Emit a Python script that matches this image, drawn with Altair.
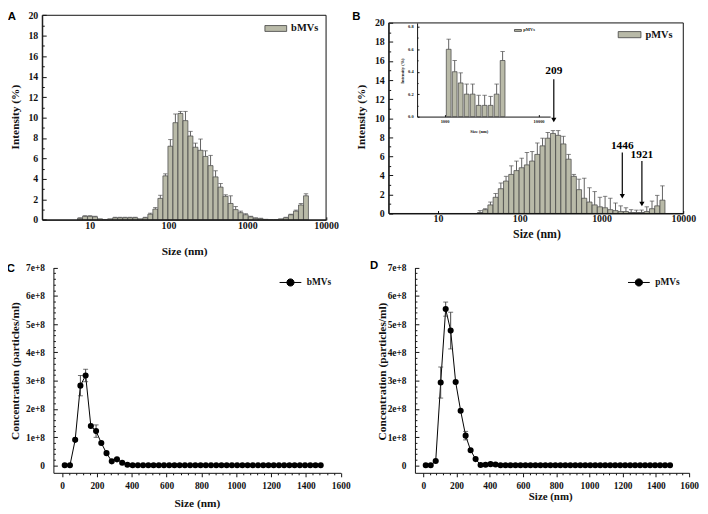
import altair as alt
import pandas as pd

# ------------------------------------------------------------------ data
# DLS size classes (nm) - panels A and B
dls_sizes = [7.531, 8.721, 10.1, 11.7, 13.54, 15.69, 18.17, 21.04, 24.36, 28.21,
             32.67, 37.84, 43.82, 50.75, 58.77, 68.06, 78.82, 91.28, 105.7, 122.4,
             141.8, 164.2, 190.1, 220.2, 255.0, 295.3, 342.0, 396.1, 458.7, 531.2,
             615.1, 712.4, 825.0, 955.4, 1106, 1281, 1484, 1718, 1990, 2305,
             2669, 3091, 3580, 4145, 4801, 5560]
bmv_intensity = [0.15, 0.35, 0.35, 0.3, 0.1, 0.0, 0.1, 0.2, 0.2, 0.2,
                 0.2, 0.2, 0.1, 0.2, 0.55, 1.05, 2.1, 4.3, 7.2, 9.5,
                 10.4, 9.7, 8.2, 7.1, 6.8, 6.2, 5.3, 4.2, 3.2, 2.3,
                 1.6, 1.0, 0.7, 0.5, 0.3, 0.15, 0.1, 0.05, 0.0, 0.0,
                 0.1, 0.2, 0.5, 0.85, 1.45, 2.35]
bmv_sd = [0.05, 0.05, 0.05, 0.05, 0.0, 0.0, 0.0, 0.05, 0.05, 0.05,
          0.05, 0.05, 0.0, 0.05, 0.1, 0.15, 0.3, 0.2, 0.65, 0.85,
          0.2, 0.9, 0.45, 0.4, 1.1, 0.55, 1.0, 0.6, 0.35, 0.15,
          0.75, 0.3, 0.15, 0.1, 0.05, 0.05, 0.05, 0.0, 0.0, 0.0,
          0.0, 0.05, 0.05, 0.1, 0.15, 0.2]

pmv_sizes = [32.67, 37.84, 43.82, 50.75, 58.77, 68.06, 78.82, 91.28, 105.7, 122.4,
             141.8, 164.2, 190.1, 220.2, 255.0, 295.3, 342.0, 396.1, 458.7, 531.2,
             615.1, 712.4, 825.0, 955.4, 1106, 1281, 1484, 1718, 1990, 2305,
             2669, 3091, 3580, 4145, 4801, 5560]
pmv_intensity = [0.1, 0.4, 0.9, 1.7, 2.6, 3.4, 4.1, 4.5, 4.8, 5.1,
                 5.5, 6.2, 7.1, 7.9, 8.4, 8.2, 7.3, 5.7, 3.9, 2.5,
                 1.6, 1.2, 0.9, 0.7, 0.6, 0.4, 0.3, 0.2, 0.2, 0.1,
                 0.1, 0.1, 0.2, 0.5, 0.8, 1.4]
pmv_sd = [0.2, 0.1, 0.3, 0.4, 0.6, 0.5, 0.9, 1.0, 1.0, 1.3,
          1.0, 1.2, 0.8, 0.6, 0.3, 0.5, 0.8, 0.5, 0.2, 1.1,
          2.1, 1.5, 1.4, 1.0, 1.2, 1.2, 0.8, 0.6, 0.4, 0.3,
          0.25, 0.26, 0.5, 0.8, 1.1, 1.5]

inset_sizes = [1106, 1281, 1484, 1718, 1990, 2305, 2669, 3091, 3580, 4145]
inset_intensity = [0.6, 0.4, 0.3, 0.2, 0.2, 0.1, 0.1, 0.1, 0.2, 0.5]
inset_sd = [0.09, 0.1, 0.09, 0.09, 0.09, 0.09, 0.09, 0.08, 0.09, 0.08]

peak_labels = ["209", "1446", "1921"]
peak_x = [261, 1795, 3118]
peak_text_y = [15.0, 7.1, 6.1]
peak_arrow_top = [14.1, 6.4, 5.5]
peak_arrow_tip = [9.8, 1.8, 1.0]

# NTA size bins (nm) - panels C and D
nta_sizes = [15, 45, 75, 105, 135, 165, 195, 225, 255, 285,
             315, 345, 375, 405, 435, 465, 495, 525, 555, 585,
             615, 645, 675, 705, 735, 765, 795, 825, 855, 885,
             915, 945, 975, 1005, 1035, 1065, 1095, 1125, 1155, 1185,
             1215, 1245, 1275, 1305, 1335, 1365, 1395, 1425, 1455, 1485]
# concentrations in units of 1e8 particles/ml
bmv_conc = [0.0, 0.0, 0.9, 2.82, 3.18, 1.39, 1.21, 0.79, 0.43, 0.14,
            0.21, 0.09, 0.02, 0.0, 0.0, 0.0, 0.0, 0.0, 0.0, 0.0,
            0.0, 0.0, 0.0, 0.0, 0.0, 0.0, 0.0, 0.0, 0.0, 0.0,
            0.0, 0.0, 0.0, 0.0, 0.0, 0.0, 0.0, 0.0, 0.0, 0.0,
            0.0, 0.0, 0.0, 0.0, 0.0, 0.0, 0.0, 0.0, 0.0, 0.0]
bmv_conc_sd = [0.0, 0.0, 0.03, 0.36, 0.22, 0.03, 0.22, 0.03, 0.0, 0.0,
               0.0, 0.0, 0.0, 0.0, 0.0, 0.0, 0.0, 0.0, 0.0, 0.0,
               0.0, 0.0, 0.0, 0.0, 0.0, 0.0, 0.0, 0.0, 0.0, 0.0,
               0.0, 0.0, 0.0, 0.0, 0.0, 0.0, 0.0, 0.0, 0.0, 0.0,
               0.0, 0.0, 0.0, 0.0, 0.0, 0.0, 0.0, 0.0, 0.0, 0.0]
pmv_conc = [0.0, 0.0, 0.15, 2.93, 5.53, 4.77, 2.95, 1.93, 1.05, 0.53,
            0.22, 0.01, 0.02, 0.04, 0.03, 0.0, 0.0, 0.0, 0.0, 0.0,
            0.0, 0.0, 0.0, 0.0, 0.0, 0.0, 0.0, 0.0, 0.0, 0.0,
            0.0, 0.0, 0.0, 0.0, 0.0, 0.0, 0.0, 0.0, 0.0, 0.0,
            0.0, 0.0, 0.0, 0.0, 0.0, 0.0, 0.0, 0.0, 0.0, 0.0]
pmv_conc_sd = [0.0, 0.0, 0.02, 0.55, 0.25, 0.65, 0.03, 0.03, 0.15, 0.03,
               0.0, 0.0, 0.0, 0.0, 0.0, 0.0, 0.0, 0.0, 0.0, 0.0,
               0.0, 0.0, 0.0, 0.0, 0.0, 0.0, 0.0, 0.0, 0.0, 0.0,
               0.0, 0.0, 0.0, 0.0, 0.0, 0.0, 0.0, 0.0, 0.0, 0.0,
               0.0, 0.0, 0.0, 0.0, 0.0, 0.0, 0.0, 0.0, 0.0, 0.0]

# axis tick labels
log_ticks = [10, 100, 1000, 10000]
inset_log_ticks = [1000, 10000]
intensity_ticks = [0, 2, 4, 6, 8, 10, 12, 14, 16, 18, 20]
inset_intensity_ticks = [0, 0.2, 0.4, 0.6, 0.8]
conc_ticks = [0, 1e8, 2e8, 3e8, 4e8, 5e8, 6e8, 7e8]
size_ticks = [0, 200, 400, 600, 800, 1000, 1200, 1400, 1600]

# ------------------------------------------------------------------ layout / style
W, H = 700, 506


def PX(v):
    return (v - 3.0) * 0.99


def PY(v):
    return (v - 2.0) * 0.99


SERIF = "Liberation Serif"
SANS = "Liberation Sans"
INK = "#111111"
BAR_FILL = "#b9baa8"
BAR_EDGE = "#404040"
ERR = "#505050"
HALF = 1.074  # half bin width factor (log spacing of size classes)


def minor_values(majors, n_sub):
    step = (majors[1] - majors[0]) / n_sub
    out = []
    for i in range(len(majors) - 1):
        for k in range(n_sub):
            out.append(majors[i] + k * step)
    out.append(majors[-1])
    return out


def ax(orient, offset, title, majors, tick, gap, fmt=None, lexpr=None,
       lsize=10, tsize=11.5, tx=None, ty=None, inward=True, n_sub=None, fancy=True):
    d = dict(orient=orient, offset=offset, title=title, grid=False,
             domainColor=INK, domainWidth=1, tickColor=INK, tickWidth=1,
             labelFont=SERIF, labelFontWeight="bold", labelFontSize=lsize, labelColor=INK,
             titleFont=SERIF, titleFontWeight="bold", titleFontSize=tsize, titleColor=INK,
             titleX=tx, titleY=ty, titleAlign="center", titleBaseline="middle",
             labelFlush=False, labelOverlap=False)
    sign = -1 if inward else 1
    label = lexpr if lexpr else "datum.label"
    if fancy and n_sub:
        step = majors[1] - majors[0]
        test = f"abs(datum.value / {step} - round(datum.value / {step})) < 0.001"
        d["values"] = minor_values(majors, n_sub)
        d["tickSize"] = {"condition": {"test": test, "value": sign * tick},
                         "value": sign * tick * 0.5}
        d["labelExpr"] = f"({test}) ? ({label}) : ''"
    else:
        d["values"] = majors
        d["tickSize"] = {"expr": str(sign * tick)} if inward else tick
        if lexpr:
            d["labelExpr"] = lexpr
    d["labelPadding"] = (tick + gap) if inward else gap
    if fmt:
        d["format"] = fmt
    return alt.Axis(**d)


def bar_legend(lx, ly, width, fsize, loff):
    return alt.Legend(orient="none", legendX=lx, legendY=ly, title=None, padding=0,
                      symbolType="M-1,-0.27H1V0.27H-1Z", symbolSize=width * width,
                      symbolStrokeColor=BAR_EDGE, symbolStrokeWidth=0.8,
                      labelFont=SERIF, labelFontWeight="bold", labelFontSize=fsize,
                      labelColor=INK, labelOffset=loff)


def dot_legend(lx, ly):
    return alt.Legend(orient="none", legendX=lx, legendY=ly, title=None, padding=0,
                      symbolType="M-1,0H1M0.33,0A0.33,0.33,0,1,1,-0.33,0A0.33,0.33,0,1,1,0.33,0Z",
                      symbolSize=484, symbolStrokeColor="black", symbolStrokeWidth=1,
                      labelFont=SERIF, labelFontWeight="bold", labelFontSize=9.5,
                      labelColor=INK, labelOffset=5)


def sx(kind, dom, r0, r1):
    if kind == "log":
        return alt.Scale(type="log", domain=dom, range=[r0, r1], nice=False)
    return alt.Scale(domain=dom, range=[r0, r1], nice=False, zero=False)


def histogram_units(sizes, vals, sds, name, xs, ys, xaxis, yaxis, legend, half, frame):
    df = pd.DataFrame({"size": sizes, "val": vals, "sd": sds})
    df["lo"] = df["size"] / half
    df["hi"] = df["size"] * half
    df["top"] = df["val"] + df["sd"]
    df["series"] = name
    err = df[df["sd"] > 0]
    bars = alt.Chart(df).mark_bar(stroke=BAR_EDGE, strokeWidth=0.7, opacity=1).encode(
        x=alt.X("lo:Q", scale=xs(), axis=xaxis),
        x2="hi:Q",
        y=alt.Y("val:Q", scale=ys(), axis=yaxis),
        y2=alt.datum(0),
        color=alt.Color("series:N", scale=alt.Scale(domain=[name], range=[BAR_FILL]), legend=legend),
    )
    rules = alt.Chart(err).mark_rule(color=ERR, strokeWidth=0.9).encode(
        x=alt.X("size:Q", scale=xs(), axis=None),
        y=alt.Y("val:Q", scale=ys(), axis=None),
        y2="top:Q",
    )
    caps = alt.Chart(err).mark_tick(orient="horizontal", size=4.5, thickness=1, color=ERR).encode(
        x=alt.X("size:Q", scale=xs(), axis=None),
        y=alt.Y("top:Q", scale=ys(), axis=None),
    )
    units = [bars, rules, caps]
    if frame is not None:
        fdf = pd.DataFrame({"x1": [frame[0]], "x2": [frame[1]], "y1": [frame[2]], "y2": [frame[3]]})
        box = alt.Chart(fdf).mark_rect(fill="transparent", stroke=INK, strokeWidth=1).encode(
            x=alt.X("x1:Q", scale=xs(), axis=None), x2="x2:Q",
            y=alt.Y("y1:Q", scale=ys(), axis=None), y2="y2:Q",
        )
        units.append(box)
    return units


def nta_units(conc, sd, name, xs, ys, xaxis, yaxis, legend):
    df = pd.DataFrame({"size": nta_sizes, "c": [v * 1e8 for v in conc], "s": [v * 1e8 for v in sd]})
    df["lo"] = df["c"] - df["s"]
    df["hi"] = df["c"] + df["s"]
    df["series"] = name
    err = df[df["s"] > 0]
    line = alt.Chart(df).mark_line(color="black", strokeWidth=1).encode(
        x=alt.X("size:Q", scale=xs(), axis=xaxis),
        y=alt.Y("c:Q", scale=ys(), axis=yaxis),
    )
    rules = alt.Chart(err).mark_rule(color="#333333", strokeWidth=0.9).encode(
        x=alt.X("size:Q", scale=xs(), axis=None),
        y=alt.Y("lo:Q", scale=ys(), axis=None),
        y2="hi:Q",
    )
    cap_hi = alt.Chart(err).mark_tick(orient="horizontal", size=5, thickness=1, color="#333333").encode(
        x=alt.X("size:Q", scale=xs(), axis=None),
        y=alt.Y("hi:Q", scale=ys(), axis=None),
    )
    cap_lo = alt.Chart(err).mark_tick(orient="horizontal", size=5, thickness=1, color="#333333").encode(
        x=alt.X("size:Q", scale=xs(), axis=None),
        y=alt.Y("lo:Q", scale=ys(), axis=None),
    )
    pts = alt.Chart(df).mark_point(filled=True, size=38, opacity=1, strokeWidth=0).encode(
        x=alt.X("size:Q", scale=xs(), axis=None),
        y=alt.Y("c:Q", scale=ys(), axis=None),
        color=alt.Color("series:N", scale=alt.Scale(domain=[name], range=["black"]), legend=legend),
    )
    return [line, rules, cap_hi, cap_lo, pts]


def build(fancy):
    # ---------------- Panel A
    A_XDOM = [2.5, 10000]
    A_YDOM = [0, 20]
    xsA = lambda: sx("log", A_XDOM, PX(38), PX(328))
    ysA = lambda: sx("lin", A_YDOM, PY(215.5), PY(6.5))
    unitsA = histogram_units(
        dls_sizes, bmv_intensity, bmv_sd, "bMVs", xsA, ysA,
        ax("bottom", PY(215.5) - H, "Size (nm)", log_ticks, 3, 1, fmt="d",
           tx=PX(183), ty=PY(248) - PY(215.5), fancy=fancy),
        ax("left", -PX(38), "Intensity (%)", intensity_ticks, 4, 4.5, fmt="d",
           tx=PX(11) - PX(38), ty=PY(110), n_sub=4, fancy=fancy),
        bar_legend(PX(265), PY(22.5) - 14, 22, 10.5, 4),
        HALF, (A_XDOM[0], A_XDOM[1], A_YDOM[0], A_YDOM[1]),
    )

    # ---------------- Panel B
    B_XDOM = [2.5, 10000]
    B_YDOM = [0, 20]
    xsB = lambda: sx("log", B_XDOM, PX(392), PX(693))
    ysB = lambda: sx("lin", B_YDOM, PY(209), PY(14.3))
    unitsB = histogram_units(
        pmv_sizes, pmv_intensity, pmv_sd, "pMVs", xsB, ysB,
        ax("bottom", PY(209) - H, "Size (nm)", log_ticks, 3, 0, fmt="d",
           tsize=12, tx=PX(543), ty=PY(230) - PY(209), fancy=fancy),
        ax("left", -PX(392), "Intensity (%)", intensity_ticks, 4, 4.5, fmt="d",
           tx=PX(364.5) - PX(392), ty=PY(110), n_sub=4, fancy=fancy),
        bar_legend(PX(626), PY(28.8) - 14.5, 23, 10.5, 4),
        HALF, (B_XDOM[0], B_XDOM[1], B_YDOM[0], B_YDOM[1]),
    )
    ann = pd.DataFrame({"label": peak_labels, "x": peak_x, "ty": peak_text_y,
                        "top": peak_arrow_top, "tip": peak_arrow_tip})
    arrow_lines = alt.Chart(ann).mark_rule(color="black", strokeWidth=1.2).encode(
        x=alt.X("x:Q", scale=xsB(), axis=None),
        y=alt.Y("top:Q", scale=ysB(), axis=None),
        y2="tip:Q",
    )
    arrow_heads = alt.Chart(ann).mark_point(shape="triangle-down", filled=True, size=28,
                                            color="black", opacity=1).encode(
        x=alt.X("x:Q", scale=xsB(), axis=None),
        y=alt.Y("tip:Q", scale=ysB(), axis=None),
    )
    arrow_text = alt.Chart(ann).mark_text(font=SERIF, fontWeight="bold", fontSize=11.5,
                                          color="black", baseline="middle").encode(
        x=alt.X("x:Q", scale=xsB(), axis=None),
        y=alt.Y("ty:Q", scale=ysB(), axis=None),
        text="label:N",
    )
    unitsB += [arrow_lines, arrow_heads, arrow_text]

    # ---------------- Inset of B
    xsI = lambda: sx("log", [510, 13300], PX(421), PX(557))
    ysI = lambda: sx("lin", [0, 0.835], PY(110), PY(14.3))
    unitsI = histogram_units(
        inset_sizes, inset_intensity, inset_sd, "pMVs", xsI, ysI,
        ax("bottom", PY(110) - H, "Size (nm)", inset_log_ticks, 2, 2, fmt="d", lsize=4.5,
           tsize=4.5, tx=PX(484), ty=PY(125) - PY(110), fancy=fancy),
        ax("left", -PX(421), "Intensity (%)", inset_intensity_ticks, 2, 4, fmt=".1f",
           lsize=4.5, tsize=4.5, tx=PX(405.7) - PX(421), ty=PY(63), n_sub=2, fancy=fancy),
        bar_legend(PX(520), PY(24) - 6, 7, 4.5, 1.5),
        1.06, None,
    )

    # ---------------- Panels C / D
    conc_expr = "(datum.value == 0 ? '0' : format(datum.value / 1e8, 'd') + 'e+8')"
    CONC_DOM = [-2.67e7, 7e8]
    SIZE_DOM = [-50, 1600]

    xsC = lambda: sx("lin", SIZE_DOM, PX(49.4), PX(343))
    ysC = lambda: sx("lin", CONC_DOM, PY(474), PY(264.3))
    unitsC = nta_units(
        bmv_conc, bmv_conc_sd, "bMVs", xsC, ysC,
        ax("bottom", PY(474) - H, "Size (nm)", size_ticks, 4, 3.8, fmt="d", lsize=9.5,
           tx=PX(196), ty=PY(505) - PY(474), inward=False, n_sub=5, fancy=fancy),
        ax("left", -PX(49.4), "Concentration (particles/ml)", conc_ticks, 4, 9, lexpr=conc_expr,
           lsize=9.5, tsize=11.5, tx=PX(10.5) - PX(49.4), ty=PY(369.5), n_sub=5, fancy=fancy),
        dot_legend(PX(280), PY(280) - 12),
    )

    xsD = lambda: sx("lin", SIZE_DOM, PX(418.8), PX(699))
    ysD = lambda: sx("lin", CONC_DOM, PY(474), PY(264.3))
    unitsD = nta_units(
        pmv_conc, pmv_conc_sd, "pMVs", xsD, ysD,
        ax("bottom", PY(474) - H, "Size (nm)", size_ticks, 4, 3.8, fmt="d", lsize=9.5,
           tsize=11, tx=PX(557), ty=PY(498.5) - PY(474), inward=False, n_sub=5, fancy=fancy),
        ax("left", -PX(418.8), "Concentration (particles/ml)", conc_ticks, 4, 9, lexpr=conc_expr,
           lsize=9.5, tsize=11.5, tx=PX(386) - PX(418.8), ty=PY(370), n_sub=5, fancy=fancy),
        dot_legend(PX(636), PY(280) - 12),
    )

    # ---------------- panel letters
    panel_letters = ["A", "B", "C", "D"]
    letter_pos = [(7, 8), (359, 8), (6, 266), (377, 263)]
    letters = []
    for letter, (lx, ly) in zip(panel_letters, letter_pos):
        letters.append(
            alt.Chart(pd.DataFrame({"t": [letter]})).mark_text(
                font=SANS, fontWeight="bold", fontSize=11.5, color="black",
                align="center", baseline="middle").encode(
                text="t:N", x=alt.value(PX(lx)), y=alt.value(PY(ly)))
        )

    all_units = unitsA + unitsB + unitsI + unitsC + unitsD + letters
    return alt.layer(*all_units).resolve_scale(
        x="independent", y="independent", color="independent"
    ).resolve_axis(
        x="independent", y="independent"
    ).resolve_legend(
        color="independent"
    ).properties(
        width=W, height=H, autosize=alt.AutoSizeParams(type="none"), padding=0,
        background="white",
    ).configure_view(stroke=None)


try:
    chart = build(True)
    chart.save("out.html", embed_options={"renderer": "svg", "actions": False})
except Exception:
    chart = build(False)
    chart.save("out.html", embed_options={"renderer": "svg", "actions": False})
